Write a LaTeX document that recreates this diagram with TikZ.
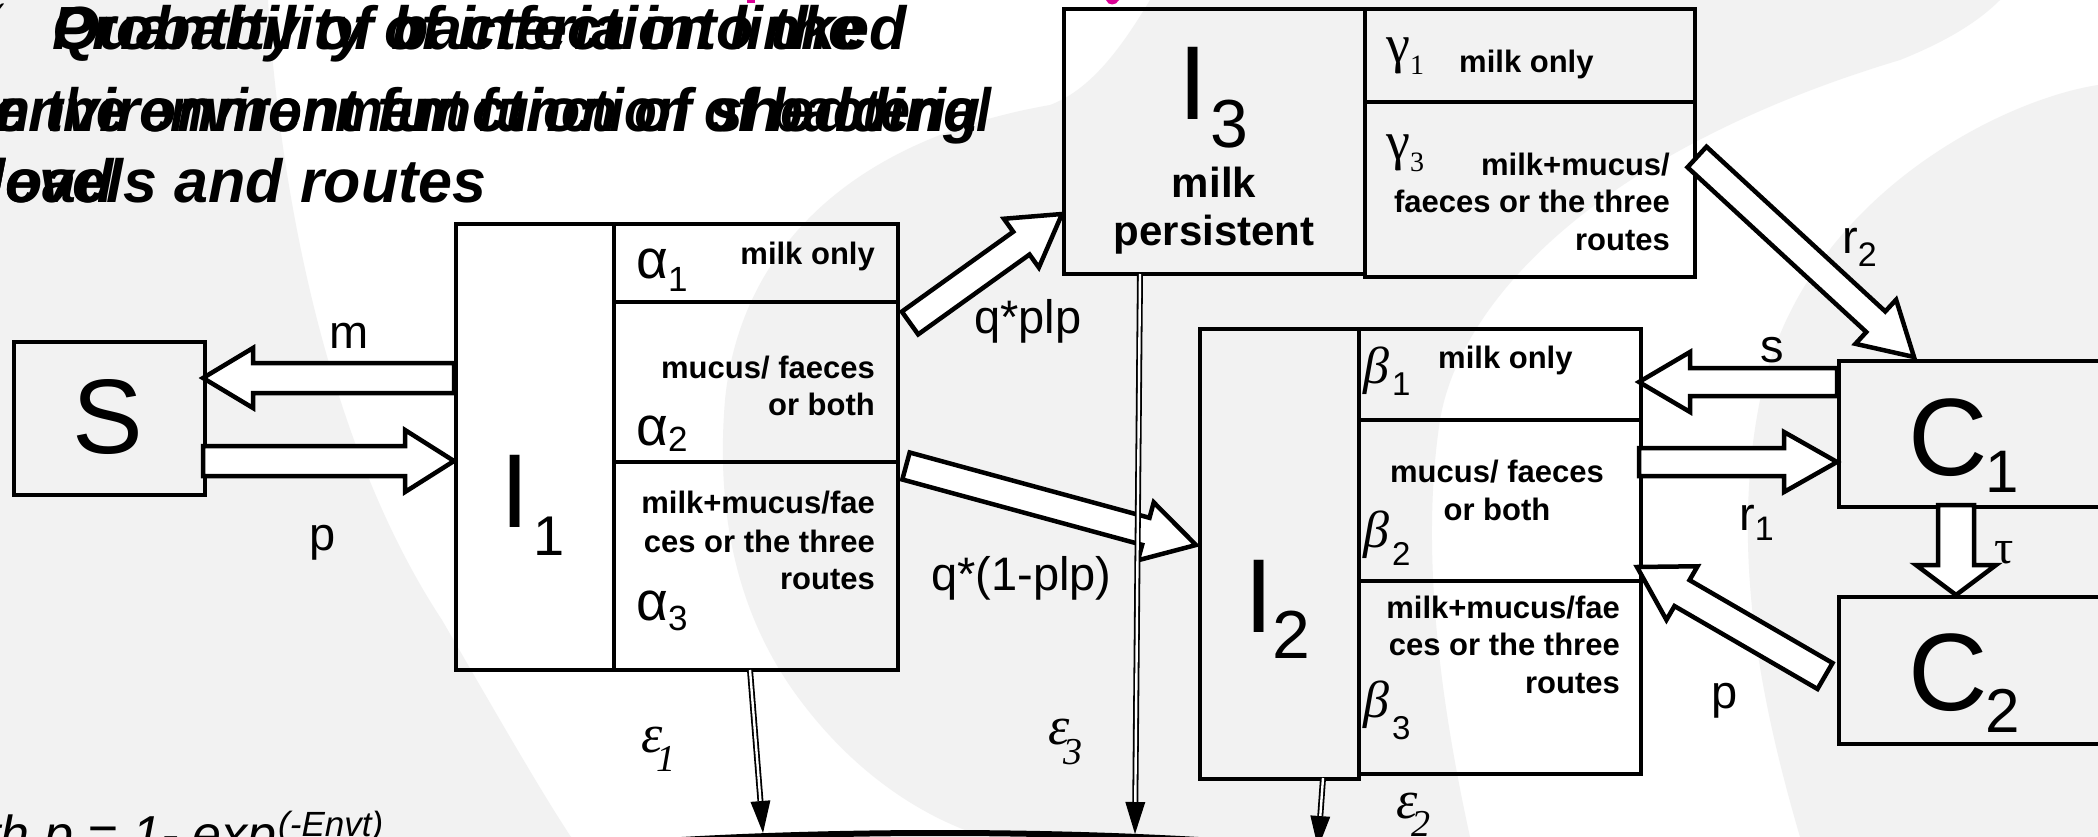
\documentclass[tikz,border=0pt]{standalone}
\usepackage{fontspec}
\usepackage{graphicx}
\setmainfont{Liberation Sans}
\newfontfamily\sergr{Liberation Serif}
\newfontfamily\dvs{DejaVu Sans}
\usetikzlibrary{calc,shapes.geometric}
\definecolor{bgg}{RGB}{242,242,242}
\definecolor{tmag}{RGB}{220,0,150}
\newcommand\fs[1]{\fontsize{#1}{#1}\selectfont}
\newcommand\Sb[3]{\raisebox{-#2pt}{\fs{#1}#3}}
\newcommand\Sbs[3]{\raisebox{-#2pt}{\fs{#1}\normalfont\rmfamily #3}}
\tikzset{
  box/.style={draw=black, line width=4pt, inner sep=0pt, anchor=north west},
  blk/.style={draw=black, line width=4.5pt, fill=white, line join=miter},
  sm/.style={font=\fs{31}\bfseries, inner sep=0pt},
  lab/.style={font=\fs{47}, inner sep=0pt},
  big/.style={font=\fs{105}, inner sep=0pt, anchor=base},
  bsub/.style={font=\fs{62}, inner sep=0pt, anchor=base},
  grk/.style={inner sep=0pt, anchor=base west},
  ttl/.style={font=\fs{61}\bfseries\itshape, inner sep=0pt, anchor=base west},
  dl/.style={draw=black, double=white, double distance=2.4pt, line width=1.8pt},
}
\newcommand\BlkArrow[5]{%
  \coordinate (tmpc) at ($(#2)!#5!(#1)$);
  \draw[blk] ($(#1)!#3!90:(#2)$) -- ($(tmpc)!#3!90:(#2)$) -- ($(tmpc)!#4!90:(#2)$) -- (#2) -- ($(tmpc)!#4!-90:(#2)$) -- ($(tmpc)!#3!-90:(#2)$) -- ($(#1)!#3!-90:(#2)$) -- cycle;}
\newcommand\EpsArrow[2]{%
  \coordinate (tmph) at ($(#2)!32pt!(#1)$);
  \draw[dl] (#1) -- (tmph);
  \fill[black] ($(tmph)!10pt!90:(#2)$) -- (#2) -- ($(tmph)!10pt!-90:(#2)$) -- cycle;}
\begin{document}
\begin{tikzpicture}[x=1pt,y=-1pt]
\useasboundingbox (0,0) rectangle (2098,837);
\clip (0,0) rectangle (2098,837);
\fill[white] (0,0) rectangle (2098,837);
% background swooshes
\fill[bgg] (0,0) -- (268,0) .. controls (280,200) and (330,450) .. (442,620) .. controls (500,720) and (540,790) .. (571,837) -- (0,837) -- cycle;
\fill[bgg] (1050,105) .. controls (850,140) and (740,250) .. (725,400) .. controls (715,520) and (740,620) .. (800,700) .. controls (860,780) and (930,820) .. (985,837) -- (1470,837) .. controls (1440,700) and (1420,550) .. (1440,420) .. controls (1460,300) and (1600,150) .. (1900,60) .. controls (1950,40) and (1980,20) .. (2000,0) -- (1150,0) .. controls (1120,50) and (1090,90) .. (1050,105) -- cycle;
\fill[bgg] (2098,85) .. controls (2000,100) and (1800,200) .. (1760,400) .. controls (1730,550) and (1760,700) .. (1800,837) -- (2098,837) -- cycle;
% title
\node[ttl] (tA1) at (52,50) {Quantity of bacteria into the};
\node[ttl] (tB1) at (52,50) {Probability of infection linked};
\node[ttl] (tA2) at (-6,132) {environment function of shedding};
\node[ttl] (tB2) at (-35,132) {\scalebox{0.88}[1]{on the environment function of bacterial}};
\node[ttl] (tA3) at (-12,203) {levels and routes};
\node[ttl] (tB3) at (-12,203) {load};
\node[font=\dvs\fs{28}, inner sep=0pt, anchor=base east] (chk) at (9,22) {✓};
\fill[tmag] (747,0) rectangle (755,3);
\fill[tmag] (1106,0) .. controls (1108,6) and (1116,6) .. (1119,0) -- cycle;
% boxes
\node[box, minimum width=191pt, minimum height=153pt] (S) at (12,340) {};
\node[box, minimum width=158pt, minimum height=446pt] (I1) at (454,222) {};
\node[box, minimum width=284pt, minimum height=78pt] (I1a) at (612,222) {};
\node[box, minimum width=284pt, minimum height=160pt] (I1b) at (612,300) {};
\node[box, minimum width=284pt, minimum height=208pt] (I1c) at (612,460) {};
\node[box, minimum width=301pt, minimum height=265pt] (I3) at (1062,7) {};
\node[box, minimum width=330pt, minimum height=93pt] (I3a) at (1363,7) {};
\node[box, minimum width=330pt, minimum height=175pt] (I3b) at (1363,100) {};
\node[box, minimum width=159pt, minimum height=450pt] (I2) at (1198,327) {};
\node[box, minimum width=282pt, minimum height=91pt] (I2a) at (1357,327) {};
\node[box, minimum width=282pt, minimum height=161pt] (I2b) at (1357,418) {};
\node[box, minimum width=282pt, minimum height=193pt] (I2c) at (1357,579) {};
\node[box, minimum width=273pt, minimum height=146pt] (C1) at (1837,359) {};
\node[box, minimum width=273pt, minimum height=147pt] (C2) at (1837,595) {};
% big labels
\node[big, font=\fs{106}] (lS) at (108,453) {S};
\node[big] (lI1) at (515,527) {I};
\node[bsub, font=\fs{56}] (sI1) at (549,555) {1};
\node[big] (lI3) at (1193,120) {I};
\node[bsub, font=\fs{68}] (sI3) at (1229,148) {3};
\node[font=\fs{42}\bfseries, inner sep=0pt, anchor=base] (milk3) at (1214,198) {milk};
\node[font=\fs{42}\bfseries, inner sep=0pt, anchor=base] (pers3) at (1214,245) {persistent};
\node[big] (lI2) at (1259,632) {I};
\node[bsub, font=\fs{68}] (sI2) at (1291,658) {2};
\node[big, font=\fs{110}] (lC1) at (1948,475) {C};
\node[bsub, font=\fs{60}] (sC1) at (2002,492) {1};
\node[big, font=\fs{110}] (lC2) at (1948,710) {C};
\node[bsub, font=\fs{62}] (sC2) at (2003,732) {2};
% I1 compartments
\node[sm, anchor=base east] (t11) at (875,264) {milk only};
\node[sm, anchor=base east] (t12) at (875,378) {mucus/ faeces};
\node[sm, anchor=base east] (t13) at (875,415) {or both};
\node[sm, anchor=base east] (t14) at (875,513) {milk+mucus/fae};
\node[sm, anchor=base east] (t15) at (875,552) {ces or the three};
\node[sm, anchor=base east] (t16) at (875,589) {routes};
\node[grk, font=\fs{55}] (a1) at (636,278) {α\Sb{35}{13}{1}};
\node[grk, font=\fs{55}] (a2) at (636,445) {α\Sb{35}{6}{2}};
\node[grk, font=\fs{55}] (a3) at (636,620) {α\Sb{35}{10}{3}};
% I3 compartments
\node[grk, font=\sergr\fs{54}] (g1) at (1386,63) {γ\Sb{28}{12}{1}};
\node[sm, anchor=base west] (t31) at (1459,73) {milk only};
\node[grk, font=\sergr\fs{54}] (g3) at (1386,160) {γ\Sb{28}{12}{3}};
\node[sm, anchor=base east] (t32) at (1670,176) {milk+mucus/};
\node[sm, anchor=base east] (t33) at (1670,213) {faeces or the three};
\node[sm, anchor=base east] (t34) at (1670,251) {routes};
% I2 compartments
\node[grk, font=\sergr\itshape\fs{52}] (b1) at (1363,383) {β\hspace{3pt}\Sbs{33}{12}{1}};
\node[sm, anchor=base west] (t21) at (1438,368) {milk only};
\node[sm, anchor=base] (t22) at (1497,482) {mucus/ faeces};
\node[sm, anchor=base] (t23) at (1497,520) {or both};
\node[grk, font=\sergr\itshape\fs{52}] (b2) at (1363,547) {β\hspace{3pt}\Sbs{33}{18}{2}};
\node[sm, anchor=base east] (t24) at (1620,618) {milk+mucus/fae};
\node[sm, anchor=base east] (t25) at (1620,655) {ces or the three};
\node[sm, anchor=base east] (t26) at (1620,693) {routes};
\node[grk, font=\sergr\itshape\fs{52}] (b3) at (1363,717) {β\hspace{3pt}\Sbs{33}{22}{3}};
% arrow end points
\coordinate (mT) at (454,378);  \coordinate (mH) at (203,378);
\coordinate (pT) at (203,461);  \coordinate (pH) at (454,461);
\coordinate (qaT) at (910,323); \coordinate (qaH) at (1062,214);
\coordinate (qbT) at (906,466); \coordinate (qbH) at (1196,545);
\coordinate (r2T) at (1697,157); \coordinate (r2H) at (1914,357);
\coordinate (sT) at (1837,382); \coordinate (sH) at (1639,382);
\coordinate (r1T) at (1639,462); \coordinate (r1H) at (1837,462);
\coordinate (tauT) at (1956,505); \coordinate (tauH) at (1956,595);
\coordinate (pcT) at (1825,676); \coordinate (pcH) at (1637,567);
\BlkArrow{mT}{mH}{15pt}{30pt}{50pt}
\BlkArrow{pT}{pH}{15pt}{31pt}{49pt}
\BlkArrow{qaT}{qaH}{14pt}{30pt}{50pt}
\BlkArrow{qbT}{qbH}{14pt}{30pt}{52pt}
\BlkArrow{r2T}{r2H}{14pt}{30pt}{52pt}
\BlkArrow{sT}{sH}{14pt}{30pt}{51pt}
\BlkArrow{r1T}{r1H}{14pt}{30pt}{53pt}
\BlkArrow{tauT}{tauH}{18pt}{40pt}{30pt}
\BlkArrow{pcT}{pcH}{15pt}{31pt}{52pt}
% arrow labels
\node[lab, anchor=base] (lm) at (349,348) {m};
\node[lab, anchor=base] (lp) at (323,550) {p};
\node[lab, anchor=base west] (lqa) at (974,333) {q*plp};
\node[lab, anchor=base west] (lqb) at (931,590) {q*(1-plp)};
\node[lab, anchor=base] (ls) at (1772,362) {s};
\node[lab, anchor=base west] (lr1) at (1739,530) {r\Sb{34}{10}{1}};
\node[grk, font=\sergr\fs{48}] (ltau) at (1994,563) {τ};
\node[lab, anchor=base] (lpc) at (1725,708) {p};
\node[lab, anchor=base west] (lr2) at (1842,253) {r\Sb{34}{13}{2}};
% bottom ellipse
\node[draw=black, line width=6pt, fill=white, ellipse, minimum width=1200pt, minimum height=144pt, inner sep=0pt] (env) at (940,905) {};
% epsilon connectors
\coordinate (e1a) at (750,670); \coordinate (e1b) at (763,833);
\coordinate (e3a) at (1140,274); \coordinate (e3b) at (1135,834);
\coordinate (e2a) at (1323,778); \coordinate (e2b) at (1318,848);
\EpsArrow{e1a}{e1b}
\EpsArrow{e3a}{e3b}
\EpsArrow{e2a}{e2b}
\node[grk, font=\sergr\itshape\fs{54}] (le1) at (641,752) {ε\hspace{-6pt}\Sb{38}{19}{1}};
\node[grk, font=\sergr\itshape\fs{54}] (le3) at (1048,744) {ε\hspace{-6pt}\Sb{38}{20}{3}};
\node[grk, font=\sergr\itshape\fs{54}] (le2) at (1396,818) {ε\hspace{-6pt}\Sb{38}{18}{2}};
% bottom-left formula
\node[font=\fs{52}\itshape, inner sep=0pt, anchor=base east] (fml) at (277,852) {with p = 1- exp};
\node[font=\fs{35}\itshape, inner sep=0pt, anchor=base west] (fmls) at (278,836) {(-Envt)};
\end{tikzpicture}
\end{document}
